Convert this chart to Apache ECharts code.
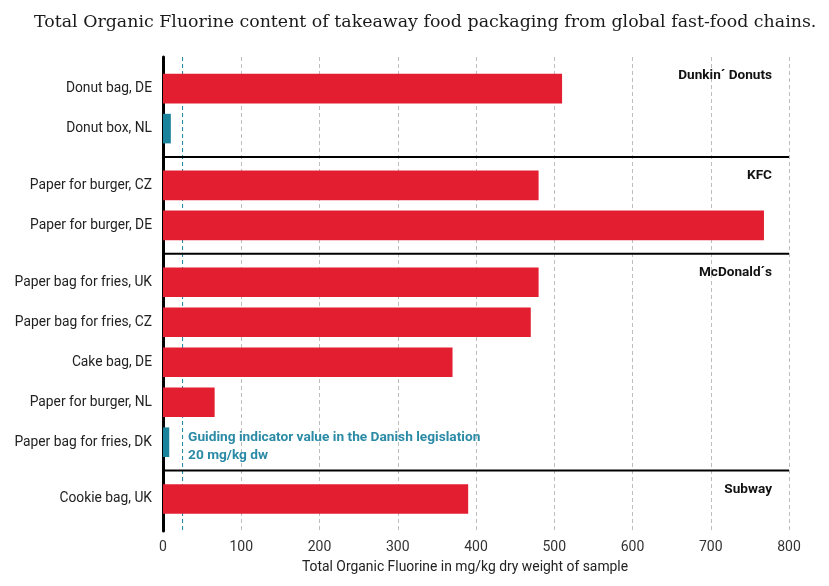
<!DOCTYPE html>
<html>
<head>
<meta charset="utf-8">
<script src="https://cdn.jsdelivr.net/npm/echarts@6/dist/echarts.min.js"></script>
<style>
  html, body { margin: 0; padding: 0; background: #fff; }
  #chart { width: 829px; height: 586px; }
</style>
</head>
<body>
<div id="chart"></div>
<script>
// ---- Data ----
const categories = [
  'Donut bag, DE', 'Donut box, NL',
  'Paper for burger, CZ', 'Paper for burger, DE',
  'Paper bag for fries, UK', 'Paper bag for fries, CZ', 'Cake bag, DE',
  'Paper for burger, NL', 'Paper bag for fries, DK',
  'Cookie bag, UK'
];
const values = [510, 10, 480, 768, 480, 470, 370, 66, 8, 390];
const chains = ['Dunkin´ Donuts', 'KFC', 'McDonald´s', 'Subway'];
const chainOf = [0, 0, 1, 1, 2, 2, 2, 2, 2, 3];
const xTicks = [0, 100, 200, 300, 400, 500, 600, 700, 800];
const guideLinePosition = 25; // where the guide line is drawn in the picture
const guideThreshold = 20;    // mg/kg dw
const guideText = ['Guiding indicator value in the Danish legislation', '20 mg/kg dw'];

// ---- Layout constants ----
const GROUP_GAP = 0.42;   // extra slot space between chains
const Y_MIN = -0.79, Y_MAX = 11.06;
const RED = '#e31e30', TEAL = '#19839c', TEAL_TEXT = '#2b8aa6';

const pos = categories.map((c, i) => i + chainOf[i] * GROUP_GAP);
const barData = values.map((v, i) => [v, pos[i], i]);

// separators between chains, and label anchor for each chain
const sepData = [];
const chainStart = [];
chains.forEach((c, g) => {
  const idx = chainOf.indexOf(g);
  if (g === 0) { chainStart.push(Y_MIN); }
  else {
    const s = (pos[idx - 1] + pos[idx]) / 2;
    sepData.push([s]);
    chainStart.push(s);
  }
});
const chainLabelData = chains.map((c, g) => [chainStart[g] + 0.475, g]);
const guideRowIdx = categories.length - 2; // row where the note sits

const chart = echarts.init(document.getElementById('chart'), null, { renderer: 'canvas' });
const option = {
  backgroundColor: '#ffffff',
  animation: false,
  title: {
    text: 'Total Organic Fluorine content of takeaway food packaging from global fast-food chains.',
    left: 29, top: 9,
    textStyle: { fontFamily: 'DejaVu Serif', fontSize: 17.4, fontWeight: 'normal', color: '#1a1a1a' }
  },
  grid: { left: 163, right: 40, top: 57, bottom: 55, containLabel: false },
  xAxis: {
    type: 'value', min: xTicks[0], max: xTicks[xTicks.length - 1], interval: 100,
    axisLine: { show: false }, axisTick: { show: false },
    axisLabel: { fontFamily: 'Roboto', fontSize: 14, color: '#333', margin: 9 },
    splitLine: { show: true, lineStyle: { color: '#bdbdbd', type: [4, 3], width: 1 } },
    name: 'Total Organic Fluorine in mg/kg dry weight of sample',
    nameLocation: 'middle', nameGap: 30,
    nameTextStyle: { fontFamily: 'Roboto', fontSize: 13.9, color: '#222', padding: [0, 22, 0, 0] }
  },
  yAxis: {
    type: 'value', inverse: true, min: Y_MIN, max: Y_MAX,
    axisLine: { show: true, onZero: false, lineStyle: { color: '#000', width: 3 } },
    axisTick: { show: false }, axisLabel: { show: false }, splitLine: { show: false }
  },
  series: [
    {
      type: 'custom', name: 'bars', data: barData, z: 3,
      renderItem: function (params, api) {
        const v = api.value(0), p = api.value(1), i = api.value(2);
        const start = api.coord([0, p]);
        const end = api.coord([v, p]);
        const h = api.size([0, 1])[1] * 0.74;
        return {
          type: 'group',
          children: [
            { type: 'rect', shape: { x: start[0], y: start[1] - h / 2, width: end[0] - start[0], height: h },
              style: { fill: v < guideThreshold ? TEAL : RED } },
            { type: 'text', x: start[0] - 11, y: start[1],
              style: { text: categories[i], align: 'right', verticalAlign: 'middle',
                       fontFamily: 'Roboto', fontSize: 13.8, fill: '#222' } }
          ]
        };
      }
    },
    {
      type: 'custom', name: 'separators', data: sepData, z: 4,
      encode: { y: 0 },
      renderItem: function (params, api) {
        const s = api.value(0);
        const a = api.coord([xTicks[0], s]);
        const b = api.coord([xTicks[xTicks.length - 1], s]);
        return { type: 'line', shape: { x1: a[0], y1: a[1], x2: b[0], y2: b[1] },
                 style: { stroke: '#000', lineWidth: 2 } };
      }
    },
    {
      type: 'custom', name: 'chains', data: chainLabelData, z: 4,
      encode: { y: 0 },
      renderItem: function (params, api) {
        const p = api.value(0), g = api.value(1);
        const c = api.coord([xTicks[xTicks.length - 1], p]);
        return { type: 'text', x: c[0] - 17, y: c[1],
                 style: { text: chains[g], align: 'right', verticalAlign: 'middle',
                          fontFamily: 'Roboto', fontSize: 13.6, fontWeight: 'bold', fill: '#111' } };
      }
    },
    {
      type: 'custom', name: 'guide', data: [[guideLinePosition, pos[guideRowIdx]]], z: 2,
      renderItem: function (params, api) {
        const g = api.value(0), p = api.value(1);
        const top = api.coord([g, Y_MIN]);
        const bot = api.coord([g, Y_MAX]);
        const t = api.coord([g, p]);
        return {
          type: 'group',
          children: [
            { type: 'line', shape: { x1: top[0], y1: top[1], x2: bot[0], y2: bot[1] + 2 },
              style: { stroke: TEAL, lineWidth: 1, lineDash: [4, 3] } },
            { type: 'text', x: t[0] + 5.5, y: t[1] + 4,
              style: { text: guideText.join('\n'), align: 'left', verticalAlign: 'middle',
                       fontFamily: 'Roboto', fontSize: 13.7, fontWeight: 'bold', lineHeight: 18,
                       fill: TEAL_TEXT } }
          ]
        };
      }
    }
  ]
};
chart.setOption(option);
</script>
</body>
</html>
